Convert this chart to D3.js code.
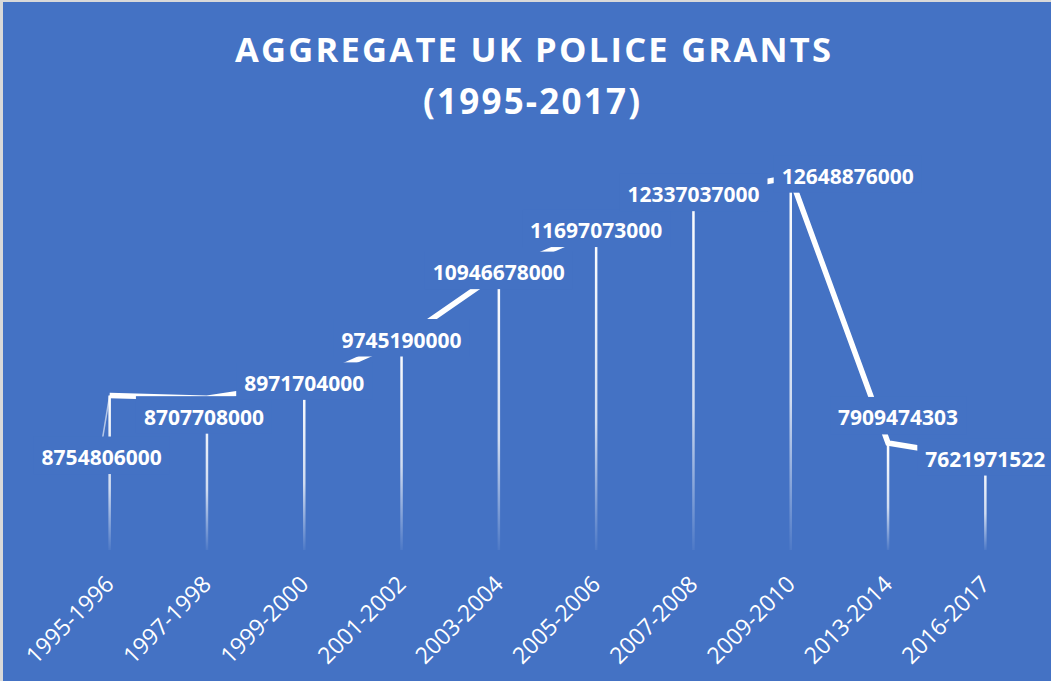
<!doctype html>
<html>
<head>
<meta charset="utf-8"/>
<title>Aggregate UK police grants</title>
<style>
body{margin:0;background:#fff;}
</style>
<script src="https://d3js.org/d3.v7.min.js"></script>
</head>
<body>
<script type="text/javascript">
// data
var periods = ["1995-1996","1997-1998","1999-2000","2001-2002","2003-2004",
               "2005-2006","2007-2008","2009-2010","2013-2014","2016-2017"];
var grants = [8754806000, 8707708000, 8971704000, 9745190000, 10946678000,
              11697073000, 12337037000, 12648876000, 7909474303, 7621971522];
var titleLines = ["AGGREGATE UK POLICE GRANTS", "(1995-2017)"];

// labels that were dragged away from their points (dx, dy in px)
var labelShift = [[-8,62],[-3,19],[0,0],[0,0],[0,0],[0,0],[0,0],[57,-1],[10,-25],[0,0]];

var W = 1051, H = 681;
var bg = "#4472C4";

var svg = d3.select("body").append("svg")
    .attr("width", W)
    .attr("height", H);

// chart area + thin grey frame on top/left
svg.append("rect").attr("x",0).attr("y",0).attr("width",W).attr("height",H).attr("fill","#d9d9d9");
svg.append("rect").attr("x",3).attr("y",2).attr("width",W-3).attr("height",H-2).attr("fill",bg);

var x = d3.scalePoint().domain(periods).range([61, 1034]).padding(0.5);
var y = d3.scaleLinear().domain([6e9, 13e9]).range([550, 157.5]);

// title
svg.append("text")
    .attr("x", 235).attr("y", 62)
    .attr("textLength", 596).attr("lengthAdjust", "spacing")
    .attr("font-family", "Open Sans").attr("font-weight", "bold")
    .attr("font-size", 34.5).attr("fill", "#fff")
    .text(titleLines[0]);
svg.append("text")
    .attr("x", 423).attr("y", 114)
    .attr("textLength", 217).attr("lengthAdjust", "spacing")
    .attr("font-family", "Open Sans").attr("font-weight", "bold")
    .attr("font-size", 35).attr("fill", "#fff")
    .text(titleLines[1]);

// drop lines with fading gradient
var defs = svg.append("defs");
var grad = defs.append("linearGradient").attr("id","dropFade")
    .attr("x1",0).attr("y1",0).attr("x2",0).attr("y2",1);
grad.append("stop").attr("offset","0").attr("stop-color","#fff").attr("stop-opacity",1);
grad.append("stop").attr("offset","0.6").attr("stop-color","#fff").attr("stop-opacity",0.75);
grad.append("stop").attr("offset","1").attr("stop-color","#fff").attr("stop-opacity",0.05);

svg.selectAll("rect.drop")
    .data(grants)
    .enter()
    .append("rect")
    .attr("class","drop")
    .attr("x", function(d,i){ return x(periods[i]) - 1.25; })
    .attr("y", function(d){ return y(d); })
    .attr("width", 2.5)
    .attr("height", function(d){ return 550 - y(d); })
    .attr("fill", "url(#dropFade)");

// the series line
var line = d3.line()
    .x(function(d,i){ return x(periods[i]); })
    .y(function(d){ return y(d); });

svg.append("path")
    .attr("d", line(grants))
    .attr("fill","none")
    .attr("stroke","#fff")
    .attr("stroke-width",5.5)
    .attr("stroke-linejoin","miter");

// data labels (boxes filled with the background colour, like the original)
var fs = 21;
var lbl = svg.selectAll("g.lbl")
    .data(grants)
    .enter()
    .append("g")
    .attr("class","lbl");

lbl.each(function(d,i){
    var g = d3.select(this);
    var px = x(periods[i]), py = y(d);
    var cx = px + labelShift[i][0];
    var cy = py + labelShift[i][1];
    var base = cy + 7.5;
    var t = g.append("text")
        .attr("x", cx).attr("y", base)
        .attr("text-anchor","middle")
        .attr("font-family","Open Sans").attr("font-weight","bold")
        .attr("font-size", fs).attr("fill","#fff")
        .text(String(d));
    var bb = t.node().getBBox();
    var boxTop = base - 28.5;
    // leader line for labels moved far from the point
    if (Math.abs(labelShift[i][1]) > 40) {
        svg.insert("line", "g.lbl")
            .attr("x1", cx + 1).attr("y1", boxTop + 1)
            .attr("x2", px).attr("y2", py)
            .attr("stroke","#fff").attr("stroke-opacity",0.6)
            .attr("stroke-width",1.5);
    }
    g.insert("rect","text")
        .attr("x", bb.x - 8).attr("y", boxTop)
        .attr("width", bb.width + 16).attr("height", 37.5)
        .attr("fill", bg);
});

// category labels, rotated
svg.selectAll("text.cat")
    .data(periods)
    .enter()
    .append("text")
    .attr("class","cat")
    .attr("transform", function(d){ return "translate(" + x(d) + ",580) rotate(-45)"; })
    .attr("dy","0.35em")
    .attr("text-anchor","end")
    .attr("font-family","Open Sans")
    .attr("font-size", 23)
    .attr("fill","#fff")
    .text(function(d){ return d; });
</script>
</body>
</html>
